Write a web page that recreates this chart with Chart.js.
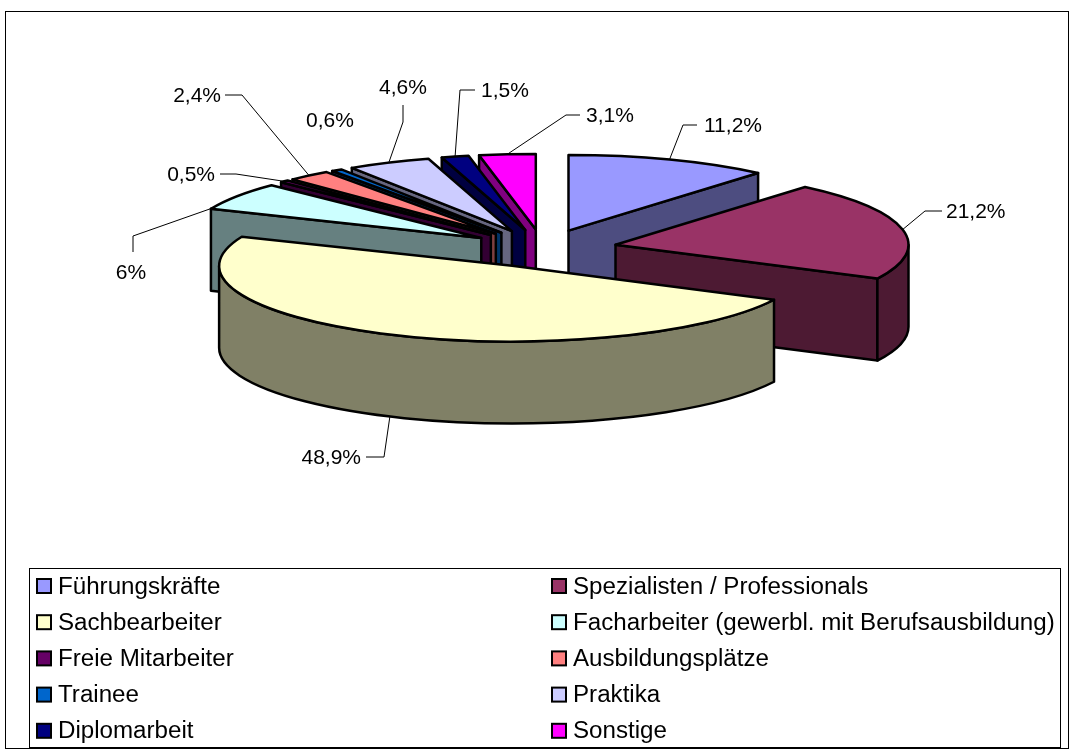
<!DOCTYPE html>
<html>
<head>
<meta charset="utf-8">
<title>Mitarbeiter</title>
<script src="https://cdn.jsdelivr.net/npm/chart.js@4"></script>
<style>
  html, body { margin: 0; padding: 0; background: #fff; }
  canvas { display: block; }
</style>
</head>
<body>
<div style="width:1069px;height:749px"><canvas id="pie"></canvas></div>
<script>
const categories = ['Führungskräfte', 'Spezialisten / Professionals', 'Sachbearbeiter',
  'Facharbeiter (gewerbl. mit Berufsausbildung)', 'Freie Mitarbeiter', 'Ausbildungsplätze',
  'Trainee', 'Praktika', 'Diplomarbeit', 'Sonstige'];
const shares = [11.2, 21.2, 48.9, 6, 0.5, 2.4, 0.6, 4.6, 1.5, 3.1];
const topColors = ['#9999FF', '#993366', '#FFFFCC', '#CCFFFF', '#660066', '#FF8080', '#0066CC', '#CCCCFF', '#000080', '#FF00FF'];
const wallColors = ['#4D4D80', '#4D1A33', '#808066', '#668080', '#330033', '#804040', '#003366', '#666680', '#000040', '#800080'];

// look of the tilted pie
const tilt = 0.258;
const depth = 82;
const explode = 74;
const LABEL_FONT = '21px "Liberation Sans", Arial, sans-serif';
const LEGEND_FONT = '24.15px "Liberation Sans", Arial, sans-serif';

// where each value label sits, same order as categories
const labelSpots = [
  { along: 0.5, elbow: [683, 125], end: [697, 125], text: [704, 126], align: 'left' },
  { along: 0.5, elbow: [925, 211], end: [942, 211], text: [946, 212], align: 'left' },
  { along: 0.5, elbow: [384, 457], end: [366, 457], text: [361, 458], align: 'right', onWall: true },
  { along: 0.02, elbow: [133, 236], end: [133, 252], text: [131, 273], align: 'center' },
  { along: 0.5, elbow: [236, 174], end: [220, 174], text: [215, 175], align: 'right' },
  { along: 0.5, elbow: [242, 95], end: [225, 95], text: [221, 96], align: 'right' },
  { text: [330, 121], align: 'center' },
  { along: 0.5, elbow: [403, 122], end: [403, 105], text: [403, 88], align: 'center' },
  { along: 0.5, elbow: [460, 90], end: [475, 90], text: [481, 91], align: 'left' },
  { along: 0.5, elbow: [566, 115], end: [580, 115], text: [586, 116], align: 'left' }
];

function sliceCenter(el) {
  const mid = (el.startAngle + el.endAngle) / 2;
  return {
    x: el.x + Math.cos(mid) * el.options.offset,
    y: el.y + Math.sin(mid) * el.options.offset * tilt
  };
}

function rimPoint(c, r, a) {
  return { x: c.x + Math.cos(a) * r, y: c.y + Math.sin(a) * r * tilt };
}

function drawFace(ctx, c, r, a) {
  const p = rimPoint(c, r, a);
  ctx.beginPath();
  ctx.moveTo(c.x, c.y);
  ctx.lineTo(p.x, p.y);
  ctx.lineTo(p.x, p.y + depth);
  ctx.lineTo(c.x, c.y + depth);
  ctx.closePath();
  ctx.fill();
  ctx.stroke();
}

function drawSlice(ctx, el, i) {
  const c = sliceCenter(el);
  const r = el.outerRadius;
  const a0 = el.startAngle;
  const a1 = el.endAngle;
  ctx.lineWidth = 2.5;
  ctx.lineJoin = 'round';
  ctx.strokeStyle = '#000';

  // cut faces, only the ones turned to the viewer
  ctx.fillStyle = wallColors[i];
  if (Math.cos(a0) < -1e-6) drawFace(ctx, c, r, a0);
  if (Math.cos(a1) > 1e-6) drawFace(ctx, c, r, a1);

  // outer wall, same
  const w0 = Math.max(a0, 0);
  const w1 = Math.min(a1, Math.PI);
  if (w1 > w0) {
    ctx.beginPath();
    ctx.ellipse(c.x, c.y, r, r * tilt, 0, w0, w1);
    ctx.ellipse(c.x, c.y + depth, r, r * tilt, 0, w1, w0, true);
    ctx.closePath();
    ctx.fill();
    ctx.stroke();
  }

  // top
  ctx.fillStyle = topColors[i];
  ctx.beginPath();
  ctx.moveTo(c.x, c.y);
  ctx.ellipse(c.x, c.y, r, r * tilt, 0, a0, a1);
  ctx.closePath();
  ctx.fill();
  ctx.stroke();
}

const pie3d = {
  id: 'pie3d',
  beforeDraw(chart) {
    const ctx = chart.ctx;
    ctx.save();
    ctx.fillStyle = '#fff';
    ctx.fillRect(0, 0, chart.width, chart.height);
    ctx.strokeStyle = '#000';
    ctx.lineWidth = 1;
    ctx.strokeRect(5.5, 11.5, 1063, 737);
    ctx.restore();
  },
  beforeDatasetsDraw(chart) {
    const ctx = chart.ctx;
    const arcs = chart.getDatasetMeta(0).data;
    const order = arcs.map((el, i) => i).sort((a, b) => sliceCenter(arcs[a]).y - sliceCenter(arcs[b]).y);
    ctx.save();
    order.forEach(i => drawSlice(ctx, arcs[i], i));
    ctx.restore();
    return false;
  },
  afterDraw(chart) {
    const ctx = chart.ctx;
    const arcs = chart.getDatasetMeta(0).data;
    ctx.save();
    ctx.font = LABEL_FONT;
    ctx.textBaseline = 'middle';

    // value labels and leader lines
    arcs.forEach((el, i) => {
      const spot = labelSpots[i];
      if (spot.elbow) {
        const a = el.startAngle + (el.endAngle - el.startAngle) * spot.along;
        const p = rimPoint(sliceCenter(el), el.outerRadius, a);
        ctx.strokeStyle = '#000';
        ctx.lineWidth = 1;
        ctx.beginPath();
        ctx.moveTo(p.x, p.y + (spot.onWall ? depth : 0));
        ctx.lineTo(spot.elbow[0], spot.elbow[1]);
        ctx.lineTo(spot.end[0], spot.end[1]);
        ctx.stroke();
      }
      ctx.fillStyle = '#000';
      ctx.textAlign = spot.align;
      ctx.fillText(String(shares[i]).replace('.', ',') + '%', spot.text[0], spot.text[1]);
    });

    // legend box, two columns
    ctx.strokeStyle = '#000';
    ctx.lineWidth = 1;
    ctx.fillStyle = '#fff';
    ctx.fillRect(29.5, 568.5, 1031, 179);
    ctx.strokeRect(29.5, 568.5, 1031, 179);
    ctx.font = LEGEND_FONT;
    ctx.textAlign = 'left';
    categories.forEach((name, i) => {
      const col = i % 2;
      const row = Math.floor(i / 2);
      const sx = col ? 552 : 37;
      const cy = 586 + row * 36.2;
      ctx.fillStyle = topColors[i];
      ctx.strokeStyle = '#000';
      ctx.lineWidth = 2;
      ctx.fillRect(sx, cy - 7, 14, 14);
      ctx.strokeRect(sx, cy - 7, 14, 14);
      ctx.fillStyle = '#000';
      ctx.fillText(name, sx + 21, cy + 1);
    });
    ctx.restore();
  }
};

new Chart(document.getElementById('pie'), {
  type: 'pie',
  data: {
    labels: categories,
    datasets: [{ data: shares, backgroundColor: topColors, offset: explode, radius: 293, borderWidth: 0 }]
  },
  options: {
    responsive: true,
    maintainAspectRatio: false,
    animation: false,
    events: [],
    layout: { padding: { left: 17, right: 0, top: 0, bottom: 252 } },
    plugins: { legend: { display: false }, tooltip: { enabled: false } }
  },
  plugins: [pie3d]
});
</script>
</body>
</html>
